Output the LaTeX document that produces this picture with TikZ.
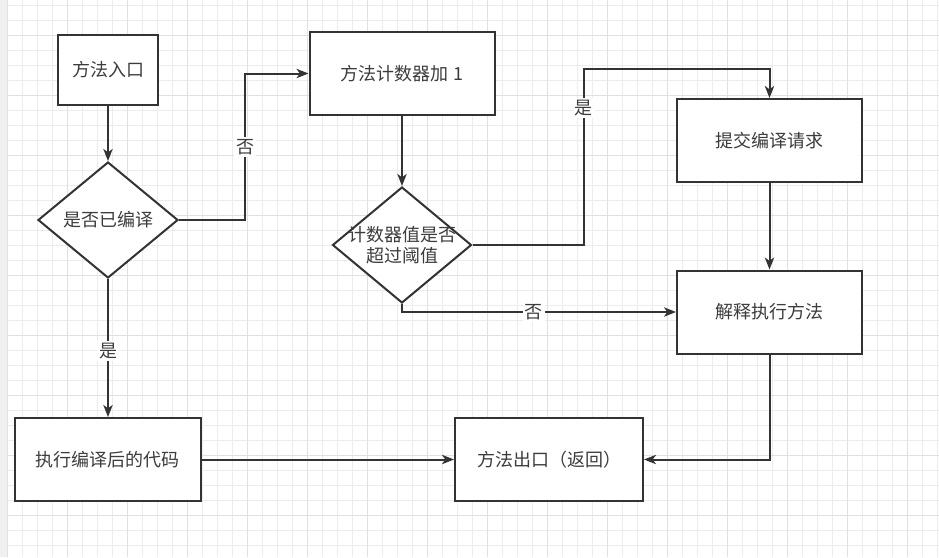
\documentclass[tikz,border=0pt]{standalone}
\usepackage{fontspec}
\usepackage{tikz}
\usetikzlibrary{arrows.meta,shapes.geometric}
\usepackage{xcolor}
\newfontfamily\cjk{Noto Sans CJK SC}
\definecolor{inkline}{RGB}{51,51,51}
\definecolor{inktext}{RGB}{60,60,60}
\definecolor{gridminor}{RGB}{236,236,236}
\definecolor{gridmajor}{RGB}{224,224,224}
\definecolor{sidestrip}{RGB}{240,240,240}
\newcommand{\flowfont}{\cjk\fontsize{13.5pt}{16pt}\selectfont}
\tikzset{
  proc/.style={rectangle,draw=inkline,fill=white,line width=1.5pt,inner sep=0pt,
               font=\flowfont,text=inktext,align=center},
  decide/.style={diamond,draw=inkline,fill=white,line width=1.5pt,inner sep=0pt,
               label={[font=\flowfont,text=inktext,align=center]center:#1}},
  flow/.style={-{Stealth[length=9pt,width=7pt,inset=2.5pt]},draw=inkline,line width=1.5pt},
  lbl/.style={fill=white,inner sep=1.5pt,font=\flowfont,text=inktext},
  minorline/.style={draw=gridminor,line width=0.75pt},
  majorline/.style={draw=gridmajor,line width=0.75pt},
}

\begin{document}
\begin{tikzpicture}[x=0.75pt,y=-0.75pt]
  \useasboundingbox (0,0) rectangle (939,557);
  % background grid
  \fill[white] (0,0) rectangle (939,557);
  \fill[sidestrip] (0,0) rectangle (7,557);
  \foreach \gx in {7,22,...,937} \draw[minorline] (\gx,0) -- (\gx,557);
  \foreach \gy in {5,20,...,555} \draw[minorline] (7,\gy) -- (939,\gy);
  \foreach \gx in {7,67,...,907} \draw[majorline] (\gx,0) -- (\gx,557);
  \foreach \gy in {35,95,...,515} \draw[majorline] (7,\gy) -- (939,\gy);

  % nodes
  \node[proc,minimum width=100*0.75pt,minimum height=70*0.75pt] (entry) at (108,69.5) {方法入口};
  \node[decide={是否已编译},minimum width=140*0.75pt,minimum height=116*0.75pt] (compiled) at (108,220) {};
  \node[proc,minimum width=185*0.75pt,minimum height=83*0.75pt] (counter) at (402,73.5) {方法计数器加 1};
  \node[decide={计数器值是否\\超过阈值},minimum width=139*0.75pt,minimum height=116*0.75pt] (overflow) at (402,245) {};
  \node[proc,minimum width=185*0.75pt,minimum height=83*0.75pt] (submit) at (769.5,140.5) {提交编译请求};
  \node[proc,minimum width=185*0.75pt,minimum height=83*0.75pt] (interp) at (769.5,312) {解释执行方法};
  \node[proc,minimum width=186*0.75pt,minimum height=83*0.75pt] (native) at (108,459.5) {执行编译后的代码};
  \node[proc,minimum width=188*0.75pt,minimum height=83*0.75pt] (exit) at (549,459.5) {方法出口（返回）};

  % connectors
  \draw[flow] (entry) -- (compiled);
  \draw[flow] (compiled.east) -- ++(66,0) |- node[lbl,pos=.25]{否} (counter.west);
  \draw[flow] (compiled) -- node[lbl,pos=.52]{是} (native);
  \draw[flow] (counter) -- (overflow);
  \draw[flow] (overflow.east) -- ++(111,0) -- node[lbl,pos=.78]{是} ++(0,-176) -| (submit.north);
  \draw[flow] (overflow.south) |- node[lbl,pos=.74]{否} (interp.west);
  \draw[flow] (submit) -- (interp);
  \draw[flow] (interp.south) |- (exit.east);
  \draw[flow] (native) -- (exit);
\end{tikzpicture}
\end{document}
